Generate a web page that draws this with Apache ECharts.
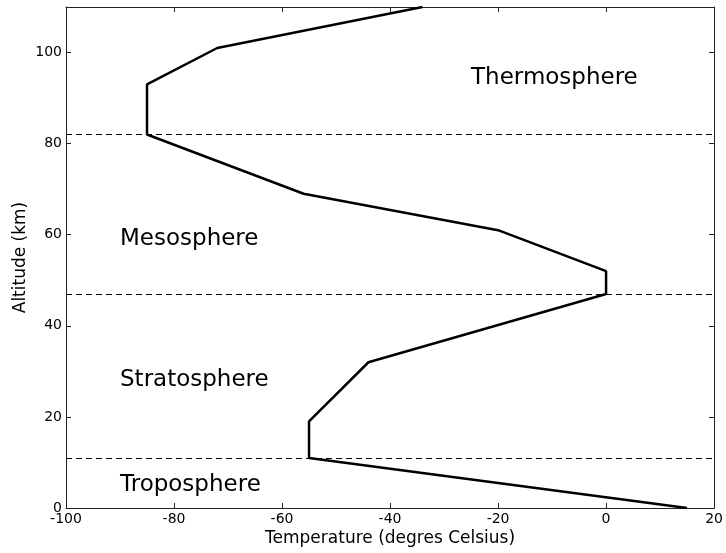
<!DOCTYPE html>
<html>
<head>
<meta charset="utf-8">
<script src="https://cdn.jsdelivr.net/npm/echarts@6/dist/echarts.min.js"></script>
<style>
  html, body { margin: 0; padding: 0; background: #fff; }
  #chart { width: 726px; height: 553px; }
</style>
</head>
<body>
<div id="chart"></div>
<script>
// temperature profile (deg C) against altitude (km)
var temps = [15, -55, -55, -44, 0, 0, -20, -56, -85, -85, -72, -34];
var alts  = [0, 11, 19, 32, 47, 52, 61, 69, 82, 93, 101, 110];

// layer boundaries (km)
var bounds = [11, 47, 82];

// layer names and where they are written
var layerNames = ['Troposphere', 'Stratosphere', 'Mesosphere', 'Thermosphere'];
var layerX = [-90, -90, -90, -25];
var layerY = [5, 28, 59, 94.5];

var font = 'DejaVu Sans';

var profile = [];
for (var i = 0; i < temps.length; i++) {
  profile.push([temps[i], alts[i]]);
}
var labelPts = [];
for (var j = 0; j < layerNames.length; j++) {
  labelPts.push({ name: layerNames[j], value: [layerX[j], layerY[j]] });
}

var chart = echarts.init(document.getElementById('chart'));

var tickStyle = { show: true, inside: true, length: 5, lineStyle: { color: '#222', width: 1 } };
var frameLine = { show: true, onZero: false, lineStyle: { color: '#222', width: 1 } };

var option = {
  animation: false,
  backgroundColor: '#fff',
  grid: { left: 66, right: 7, top: 7, bottom: 45, containLabel: false },
  xAxis: [{
    type: 'value', min: -100, max: 20, interval: 20,
    name: 'Temperature (degres Celsius)', nameLocation: 'middle', nameGap: 22,
    nameMoveOverlap: false,
    nameTextStyle: { fontFamily: font, fontSize: 17, color: '#000' },
    axisLine: frameLine, axisTick: tickStyle,
    axisLabel: { fontFamily: font, fontSize: 14, color: '#000', margin: 4 },
    splitLine: { show: false }
  }, {
    type: 'value', position: 'top', min: -100, max: 20, interval: 20,
    axisLine: frameLine, axisTick: tickStyle,
    axisLabel: { show: false }, splitLine: { show: false }
  }],
  yAxis: [{
    type: 'value', min: 0, max: 110, interval: 20,
    name: 'Altitude (km)', nameLocation: 'middle', nameGap: 37,
    nameMoveOverlap: false,
    nameTextStyle: { fontFamily: font, fontSize: 17, color: '#000' },
    axisLine: frameLine, axisTick: tickStyle,
    axisLabel: {
      fontFamily: font, fontSize: 14, color: '#000', margin: 4,
      formatter: function (v) { return v > 100 ? '' : v; }
    },
    splitLine: { show: false }
  }, {
    type: 'value', position: 'right', min: 0, max: 110, interval: 20,
    axisLine: frameLine, axisTick: tickStyle,
    axisLabel: { show: false }, splitLine: { show: false }
  }],
  series: [{
    type: 'line',
    data: profile,
    symbol: 'none',
    clip: true,
    lineStyle: { color: '#000', width: 2.5 },
    markLine: {
      silent: true,
      symbol: ['none', 'none'],
      label: { show: false },
      lineStyle: { color: '#000', width: 1, type: [6, 4] },
      data: bounds.map(function (b) { return { yAxis: b }; })
    }
  }, {
    type: 'scatter',
    data: labelPts,
    symbolSize: 0,
    itemStyle: { opacity: 1 },
    label: {
      show: true, position: 'right', distance: 0,
      formatter: '{b}', opacity: 1,
      fontFamily: font, fontSize: 23, color: '#000'
    }
  }]
};

chart.setOption(option);
</script>
</body>
</html>
